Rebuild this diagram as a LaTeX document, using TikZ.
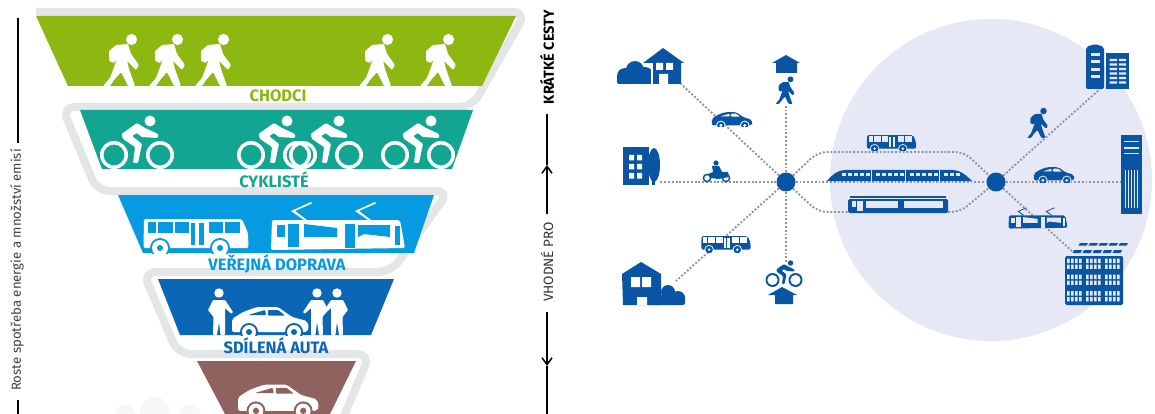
\documentclass[tikz,border=0pt]{standalone}
\usepackage{fontspec}
\setmainfont{Fira Sans}
\usetikzlibrary{arrows.meta}
\definecolor{walkgreen}{HTML}{8CB811}
\definecolor{cycleteal}{HTML}{12A591}
\definecolor{transitblue}{HTML}{069BE0}
\definecolor{sharedblue}{HTML}{0B66B5}
\definecolor{carbrown}{HTML}{8F625F}
\definecolor{ribbongrey}{HTML}{E4E5E7}
\definecolor{netblue}{HTML}{0A55A3}
\definecolor{zonelilac}{HTML}{E6E9F5}
\definecolor{dotgrey}{HTML}{8E92A6}

\tikzset{
  ribbon/.style={draw=ribbongrey,line width=8pt,rounded corners=13pt},
  bandlabel/.style={font=\bfseries\fontsize{16.5}{16.5}\selectfont,inner sep=0pt},
  sidelabel/.style={rotate=90,inner sep=0pt},
  sideline/.style={black,line width=1.5pt},
  sidearrow/.style={sideline,-{Straight Barb[length=7pt,width=10pt]}},
  dotline/.style={dotgrey,line width=1.9pt,dash pattern=on 1.9pt off 1.9pt,rounded corners=9pt},
  hub/.style={circle,fill=netblue,minimum size=19pt,inner sep=0pt},
  pics/walker/.style={code={
    \fill[pic actions] (9.5,-46.5) circle[radius=5.6];
    \fill[pic actions,rounded corners=1pt] (-6,-41) -- (6,-42) -- (9,-32) -- (17,-21) -- (14,-16) -- (5,-25)
      -- (7,-17) -- (13,0) -- (6,0) -- (-1,-14) -- (-8,-6) -- (-12,0) -- (-19,0) -- (-12,-8) -- (-9,-16)
      -- (-5,-27) -- (-8,-23) -- (-13,-25) -- (-13,-35) -- cycle;
  }},
  pics/cyclist/.style={code={
    \fill[pic actions,even odd rule] (-23,-14) circle[radius=14] (-23,-14) circle[radius=10.5];
    \fill[pic actions,even odd rule] (23,-14) circle[radius=14] (23,-14) circle[radius=10.5];
    \fill[pic actions] (13,-48) circle[radius=5.5];
    \fill[pic actions,rounded corners=1pt] (-15.5,-35) -- (0,-46) -- (8,-41) -- (21,-35) -- (21,-31) -- (4.5,-32)
      -- (0,-36) -- (-5,-33) -- (5,-25) -- (1,-6) -- (-4,-6) -- (-2,-22) -- (-14,-30) -- cycle;
  }},
  pics/person/.style={code={
    \fill[pic actions] (0,-42) circle[radius=4.7];
    \fill[pic actions,rounded corners=.8pt] (-6,-35) -- (6,-35) -- (14,-23) -- (12.5,-21) -- (6,-27) -- (6,0) -- (1.5,0)
      -- (0,-13) -- (-2,0) -- (-6,0) -- (-5.5,-18) -- (-11,-25) -- cycle;
  }},
  pics/car/.style={code={
    \begin{scope}
      \clip (-45,-40) rectangle (45,0);
      \fill[pic actions,rounded corners=2pt] (-38,-16) -- (-27,-23) -- (-13,-28) -- (8,-28) -- (22,-18) -- (37,-14)
        -- (39,-7) -- (37,-3) -- (-38,-3) -- cycle;
      \fill[#1,rounded corners=.8pt] (-22,-20) -- (-5,-25) -- (-4,-20) -- cycle;
      \fill[#1,rounded corners=.8pt] (-2,-25) -- (8,-25) -- (15,-19.5) -- (-2,-19.5) -- cycle;
      \foreach \wx in {-21,24} {
        \fill[#1] (\wx,-3) circle[radius=9];
        \fill[pic actions] (\wx,-3) circle[radius=7];
        \fill[#1] (\wx,-3) circle[radius=3];
      }
    \end{scope}
  }},
  pics/bus/.style={code={
    \begin{scope}
      \clip (-60,-40) rectangle (60,0);
      \fill[pic actions,rounded corners=2pt] (-52,-34) -- (46,-34) -- (52,-20) -- (52.5,-5) -- (-52.5,-5) -- cycle;
      \foreach \wa/\wb in {-48/-40,-38/-23,-21/-7,13/27,29/44} {
        \fill[#1] (\wa,-31) rectangle (\wb,-20);
      }
      \fill[#1] (-4.7,-30) rectangle (-.7,-8);
      \fill[#1] (2.7,-30) rectangle (7.7,-8);
      \foreach \wx in {-36,24} {
        \fill[#1] (\wx,-5) circle[radius=10];
        \fill[pic actions] (\wx,-5) circle[radius=8];
        \fill[#1] (\wx,-5) circle[radius=3];
      }
    \end{scope}
  }},
  pics/trolley/.style={code={
    \fill[pic actions,rounded corners=2pt] (-66,-31) -- (62,-31) -- (67,-3) -- (-67,-1) -- cycle;
    \foreach \px in {0,64} {
      \fill[pic actions,xshift=\px] (-34,-31) -- (-47,-40) -- (-27,-49) -- (-26,-47.5) -- (-43,-40) -- (-31,-31) -- cycle;
    }
    \fill[#1] (-61,-26) rectangle (-53,-14);
    \fill[#1] (-50,-27) rectangle (-39,-4);
    \fill[#1] (-34,-27) -- (-1,-23) -- (-1,-14) -- (-34,-14) -- cycle;
    \fill[#1] (7,-27) rectangle (17,-3);
    \fill[#1] (20,-26) -- (52,-26) -- (52,-14) -- (26,-17) -- (20,-14) -- cycle;
    \fill[#1] (57,-25) rectangle (62,-6);
  }},
}

\begin{document}
\begin{tikzpicture}[x=1pt,y=-1pt]
  \useasboundingbox (0,0) rectangle (1155,414);
  \fill[white] (0,0) rectangle (1155,414);

  %Faint cloud under the funnel
  \fill[black!3] (155,412) circle[radius=15] (125,416) circle[radius=11] (190,416) circle[radius=11];

  %Ribbon behind the funnel
  \draw[ribbon] (36,12) -- (526,12) -- (472,107) -- (62,107) -- (97,191) -- (449,191) -- (391,272)
    -- (143,272) -- (178,354) -- (370,354) -- (343,418);

  %Band walkers
  \fill[walkgreen] (36,16) -- (516,16) -- (482,86) -- (68,86) -- cycle;
  \foreach \px in {122,168,214,378,439} {
    \pic[fill=white] at (\px,86) {walker};
  }
  \node[bandlabel,text=walkgreen] (chodci) at (278,96) {CHODCI};

  %Band cyclists
  \fill[cycleteal] (80,110) -- (473,110) -- (452,169) -- (102,169) -- cycle;
  \foreach \px in {137,274,326,418} {
    \pic[fill=white] at (\px,169) {cyclist};
  }
  \node[bandlabel,text=cycleteal] (cykliste) at (274,180) {CYKLISTÉ};

  %Band public transport
  \fill[transitblue] (118,195) -- (434,195) -- (414,253) -- (143,253) -- cycle;
  \pic[fill=white] at (196,253) {bus=transitblue};
  \pic[fill=white] at (338,251) {trolley=transitblue};
  \node[bandlabel,text=transitblue] (verejna) at (277,264) {VEŘEJNÁ DOPRAVA};

  %Band shared cars
  \fill[sharedblue] (158,279) -- (394,279) -- (371,335) -- (180,335) -- cycle;
  \pic[fill=white] at (270,335) {car=sharedblue};
  \pic[fill=white] at (219,335) {person};
  \pic[fill=white,xscale=-1] at (317,335) {person};
  \pic[fill=white,xscale=-1] at (337,335) {person};
  \node[bandlabel,text=sharedblue] (sdilena) at (276,346) {SDÍLENÁ AUTA};

  %Band private car
  \fill[carbrown] (197,361) -- (356,361) -- (330,414) -- (225,414) -- cycle;
  \pic[fill=white,scale=1.05] at (278,414) {car=carbrown};

  %Side scale left
  \coordinate (ltop) at (18,18);
  \coordinate (lmid) at (18,143);
  \coordinate (llow) at (18,400);
  \coordinate (lend) at (18,414);
  \draw[sideline] (ltop) -- (lmid);
  \draw[sideline] (llow) -- (lend);
  \node[sidelabel,font=\fontsize{13.2}{13.2}\selectfont,text=black!75] (emise) at (17,270) {Roste spotřeba energie a množství emisí};

  %Side scale right
  \node[sidelabel,font=\bfseries\fontsize{14.5}{14.5}\selectfont] (kratke) at (547,57) {KRÁTKÉ CESTY};
  \node[sidelabel,font=\fontsize{13.5}{13.5}\selectfont,text=black!80] (vhodne) at (547,262) {VHODNÉ PRO};
  \coordinate (rtop) at (547,114);
  \coordinate (rtip) at (547,165);
  \coordinate (rmid) at (547,214);
  \coordinate (rlow) at (547,312);
  \coordinate (rdip) at (547,366);
  \coordinate (rend) at (547,414);
  \draw[sideline] (rtop) -- (rtip);
  \draw[sidearrow] (rmid) -- (rtip);
  \draw[sideline] (rdip) -- (rend);
  \draw[sidearrow] (rlow) -- (rdip);

  %Zone and hubs
  \fill[zonelilac] (991,180) circle[radius=161];
  \node[hub] (hubL) at (786,182) {};
  \node[hub] (hubR) at (996,182) {};

  %Dotted connectors
  \coordinate (hTL) at (681,84);
  \coordinate (hML) at (660,182);
  \coordinate (hBL) at (676,281);
  \coordinate (hTM) at (786,104);
  \coordinate (hBM) at (786,262);
  \coordinate (cUL) at (818,152);
  \coordinate (cUR) at (964,152);
  \coordinate (cLL) at (818,212);
  \coordinate (cLR) at (960,212);
  \coordinate (hTR) at (1100,89);
  \coordinate (hMR) at (1120,182);
  \coordinate (hBR) at (1073,252);
  \foreach \far in {hTL,hML,hBL,hTM,hBM} {
    \draw[dotline] (hubL) -- (\far);
  }
  \draw[dotline] (hubL) -- (hubR);
  \draw[dotline] (hubL) -- (cUL) -- (cUR) -- (hubR);
  \draw[dotline] (hubL) -- (cLL) -- (cLR) -- (hubR);
  \foreach \far in {hTR,hMR,hBR} {
    \draw[dotline] (hubR) -- (\far);
  }

  %House with cloud, top left
  \fill[netblue] (625,76) circle[radius=8] (635,70) circle[radius=9] (645,75) circle[radius=8];
  \fill[netblue,rounded corners=2pt] (617,74) rectangle (652,84);
  \fill[white] (651,60) rectangle (653,84);
  \fill[netblue] (643,63) -- (663,48) -- (684,63) -- (681,63) -- (681,84) -- (653,84) -- (653,63) -- cycle;
  \fill[white] (656,63) rectangle (663,70) (666,63) rectangle (673,70) (659,74) rectangle (668,84);

  %Building with tree, left
  \fill[netblue] (623,147) rectangle (649,185);
  \foreach \wy in {155,164,173} {
    \fill[white] (629,\wy) rectangle (634,\wy+5.5) (637,\wy) rectangle (642,\wy+5.5);
  }
  \fill[netblue] (654,165) ellipse[x radius=6,y radius=17];
  \fill[netblue] (652,175) rectangle (655,185);

  %House with cloud, bottom left
  \fill[netblue] (668,292) circle[radius=7] (678,298) circle[radius=7];
  \fill[netblue,rounded corners=2pt] (647,295) rectangle (685,305);
  \fill[netblue] (622,274) -- (641,262) -- (661,274) -- (661,305) -- (623,305) -- cycle;
  \fill[white] (631,277) rectangle (640,287) (642,277) rectangle (651,287) (637,297) rectangle (647,305);

  %House with walker, top
  \fill[netblue] (772,63) -- (786,55) -- (800,63) -- (797,63) -- (797,73) -- (776,73) -- (776,63) -- cycle;
  \pic[fill=netblue,scale=.53] at (785.5,104) {walker};

  %House with cyclist, bottom
  \pic[fill=netblue,scale=.5] at (784,287) {cyclist};
  \fill[netblue] (768,295) -- (782,287) -- (797,295) -- (793,295) -- (793,304) -- (775,304) -- (775,295) -- cycle;

  %Vehicles left of the zone
  \pic[fill=netblue,scale=.53] at (732,127) {car=white};
  \pic[fill=netblue,scale=.47] at (726,252) {bus=white};

  %Motorcycle
  \fill[netblue,even odd rule] (707,178) circle[radius=4.4] (707,178) circle[radius=2.8]
    (726,178) circle[radius=4.4] (726,178) circle[radius=2.8];
  \fill[netblue] (716,163) circle[radius=2.6];
  \fill[netblue] (712,166) -- (719,166) -- (722,172) -- (728,172) -- (729,177) -- (718,179) -- (711,178) -- (708,174) -- (713,172) -- cycle;

  %Vehicles on the three middle lines
  \pic[fill=netblue,scale=.47] at (891.5,151) {bus=zonelilac};

  %Train
  \fill[netblue] (827,181) .. controls (833,174) and (838,170) .. (845,170) -- (953,170) .. controls (960,170) and (966,175) .. (972,181) -- cycle;
  \foreach \wx in {842,848,854,860,866,876,882,888,894,900,910,916,922,928,934,944,950,956} {
    \fill[zonelilac] (\wx,173) rectangle (\wx+4,176);
  }
  \foreach \wx in {871,905,939} {
    \fill[zonelilac] (\wx,170) rectangle (\wx+.8,181);
  }

  %Long tram
  \fill[netblue] (850,196) rectangle (946,197.5);
  \fill[netblue,rounded corners=1.5pt] (848,199) rectangle (948,213);
  \fill[zonelilac] (852,201) rectangle (856,207);
  \fill[zonelilac] (857,201) rectangle (863,211);
  \fill[zonelilac] (866,201) rectangle (898,208);
  \fill[zonelilac] (904,201) rectangle (943,208);

  %Walker, car and trolley right of hub
  \pic[fill=netblue,scale=.58] at (1038,138) {walker};
  \pic[fill=netblue,scale=.53] at (1054,182) {car=zonelilac};
  \pic[fill=netblue,scale=.44] at (1038,229) {trolley=zonelilac};

  %Two towers, top right
  \fill[netblue,rounded corners=2pt] (1086,89) -- (1086,47) -- (1095,44) -- (1104,47) -- (1104,89) -- cycle;
  \foreach \wy in {53,60.5,68,75.5} {
    \fill[zonelilac] (1091,\wy) rectangle (1100,\wy+3);
  }
  \fill[netblue] (1106,53) rectangle (1129,89);
  \foreach \wy in {59,63.5,68,72.5,77,81.5} {
    \fill[zonelilac] (1109.5,\wy) rectangle (1117,\wy+2.2) (1119,\wy) rectangle (1126,\wy+2.2);
  }

  %Tall tower, right
  \fill[netblue] (1121,135) rectangle (1142,214);
  \foreach \wy in {141,147.5,153} {
    \fill[zonelilac] (1124,\wy) rectangle (1139,\wy+1.5);
  }
  \foreach \wx in {1125,1128,1131,1134,1137} {
    \fill[zonelilac] (\wx,170) rectangle (\wx+1.3,208);
  }

  %Block with solar panels
  \fill[netblue,rounded corners=1.5pt] (1065,256) rectangle (1123,305);
  \foreach \wy in {258.5,274.5,291} {
    \foreach \gx in {1067,1086,1105} {
      \foreach \wx in {0,4,8,12} {
        \fill[zonelilac] (\gx+\wx,\wy) rectangle (\gx+\wx+2.6,\wy+4.6) (\gx+\wx,\wy+6) rectangle (\gx+\wx+2.6,\wy+10.4);
      }
    }
  }
  \foreach \wx in {1080,1090,1100,1110,1120} {
    \fill[netblue] (\wx,243) -- (\wx+8,243) -- (\wx+6.5,245.5) -- (\wx-1.5,245.5) -- cycle;
  }
  \foreach \wx in {1074,1084,1094,1104,1114} {
    \fill[netblue] (\wx,250) -- (\wx+8,250) -- (\wx+6.5,253) -- (\wx-1.5,253) -- cycle;
  }
\end{tikzpicture}
\end{document}
